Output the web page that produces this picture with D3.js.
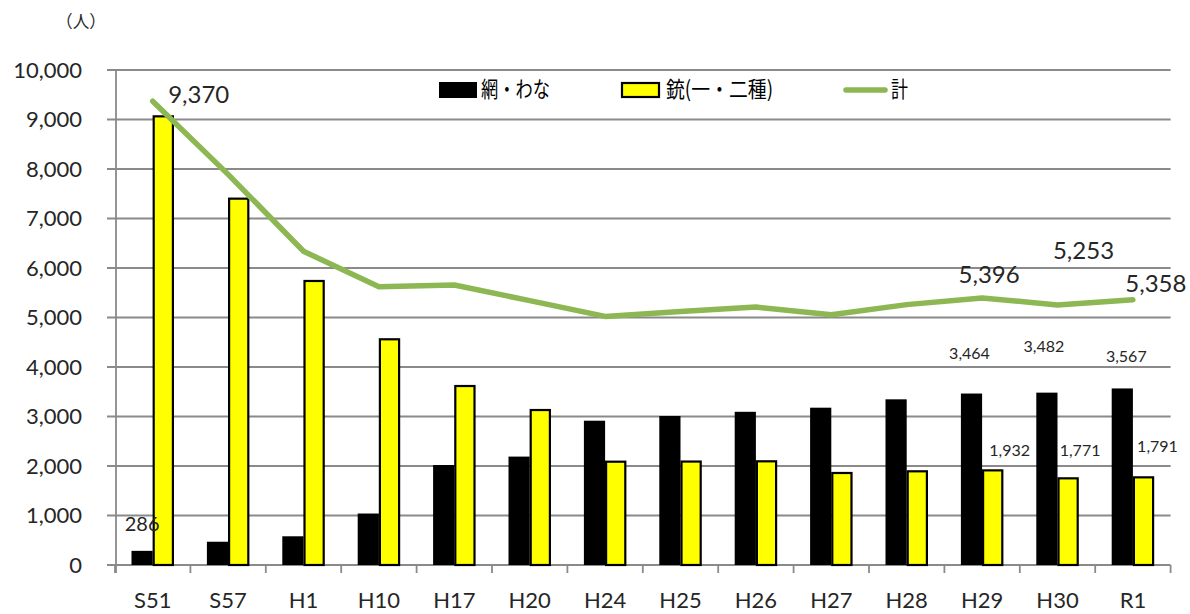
<!DOCTYPE html>
<html><head><meta charset="utf-8">
<script src="https://cdn.jsdelivr.net/npm/d3@7"></script>
<style>
html,body{margin:0;padding:0;background:#fff;}
svg{display:block;}
</style>
</head><body>
<svg id="chart" width="1190" height="614"></svg>
<script>
const categories = ["S51","S57","H1","H10","H17","H20","H24","H25","H26","H27","H28","H29","H30","R1"];
const netTrap = [286, 470, 580, 1040, 2020, 2190, 2915, 3010, 3095, 3178, 3347, 3464, 3482, 3567];
const gun = [9084, 7421, 5758, 4580, 3636, 3151, 2107, 2110, 2115, 1879, 1913, 1932, 1771, 1791];
const total = [9370, 7891, 6338, 5620, 5656, 5341, 5022, 5120, 5210, 5057, 5260, 5396, 5253, 5358];
const yTicks = [0,1000,2000,3000,4000,5000,6000,7000,8000,9000,10000];
const seriesNames = ["網・わな", "銃(一・二種)", "計"];
const unitLabel = "（人）";

// which points get value labels (index -> offset in px)
const totalLabelIdx = [0, 11, 12, 13];
const totalLabelOff = [[46,2],[7,-15],[26,-46],[23,-8]];
const netLabelIdx = [0, 11, 12, 13];
const netLabelOff = [[0,-20],[-2,-35],[-3,-41],[4,-26]];
const gunLabelIdx = [11, 12, 13];
const gunLabelOff = [[17,-13],[12,-21],[14,-24]];

const svg = d3.select("#chart");
const numFont = "Lato, 'Liberation Sans', sans-serif";
const jpFont = "'Noto Sans CJK JP', sans-serif";
const fmt = d3.format(",");

const x = d3.scaleBand().domain(categories).range([115, 1170.6]).paddingInner(0).paddingOuter(0);
const sub = d3.scaleBand().domain(["net","gun"]).range([16.5, x.bandwidth()-16.5]);
const y = d3.scaleLinear().domain([0,10000]).range([565,70]);

// gridlines
svg.append("g").selectAll("line").data(yTicks).join("line")
  .attr("x1",107).attr("x2",1170.6)
  .attr("y1",d=>y(d)).attr("y2",d=>y(d))
  .attr("stroke","#8a8a8a").attr("stroke-width",1.8);

// y axis line
svg.append("line").attr("x1",116).attr("x2",116).attr("y1",y(10000)).attr("y2",573)
  .attr("stroke","#8a8a8a").attr("stroke-width",1.8);

// x axis ticks
const xTickPos = categories.map(c=>x(c)).concat([x.range()[1]]);
svg.append("g").selectAll("line").data(xTickPos).join("line")
  .attr("x1",d=>d).attr("x2",d=>d).attr("y1",y(0)).attr("y2",573)
  .attr("stroke","#8a8a8a").attr("stroke-width",1.8);

// y labels
svg.append("g").selectAll("text").data(yTicks).join("text")
  .attr("x",82).attr("y",d=>y(d)).attr("dy","0.36em")
  .attr("text-anchor","end").attr("font-family",numFont).attr("font-size",22)
  .attr("fill","#262626").text(d=>fmt(d));

// x labels
svg.append("g").selectAll("text").data(categories).join("text")
  .attr("x",d=>x(d)+x.bandwidth()/2).attr("y",608)
  .attr("text-anchor","middle").attr("font-family",numFont).attr("font-size",22)
  .attr("fill","#262626").text(d=>d);

// unit label
svg.append("text").attr("x",56).attr("y",28).attr("font-family",jpFont).attr("font-size",17)
  .attr("textLength",50).attr("lengthAdjust","spacingAndGlyphs").attr("fill","#262626").text(unitLabel);

// bars
svg.append("g").selectAll("rect").data(categories).join("rect")
  .attr("x",d=>x(d)+sub("net")).attr("width",sub.bandwidth())
  .attr("y",(d,i)=>y(netTrap[i])).attr("height",(d,i)=>y(0)-y(netTrap[i]))
  .attr("fill","#000");
svg.append("g").selectAll("rect").data(categories).join("rect")
  .attr("x",d=>x(d)+sub("gun")+1).attr("width",sub.bandwidth()-2)
  .attr("y",(d,i)=>y(gun[i])+1).attr("height",(d,i)=>y(0)-y(gun[i])-1)
  .attr("fill","#ffff00").attr("stroke","#000").attr("stroke-width",2.2);

// total line
const line = d3.line().x((d,i)=>x(categories[i])+x.bandwidth()/2).y(d=>y(d));
svg.append("path").datum(total).attr("d",line)
  .attr("fill","none").attr("stroke","#8db752").attr("stroke-width",5.5)
  .attr("stroke-linejoin","round").attr("stroke-linecap","round");

// value labels
const cx = i => x(categories[i]) + x.bandwidth()/2;
const g = svg.append("g").attr("font-family",numFont).attr("fill","#262626").attr("text-anchor","middle");
totalLabelIdx.forEach((i,k)=>{
  g.append("text").attr("x",cx(i)+totalLabelOff[k][0]).attr("y",y(total[i])+totalLabelOff[k][1])
    .attr("font-size",24).text(fmt(total[i]));
});
netLabelIdx.forEach((i,k)=>{
  const bx = x(categories[i]) + sub("net") + sub.bandwidth()/2;
  g.append("text").attr("x",bx+netLabelOff[k][0]).attr("y",y(netTrap[i])+netLabelOff[k][1])
    .attr("font-size", i===0 ? 20 : 16).text(fmt(netTrap[i]));
});
gunLabelIdx.forEach((i,k)=>{
  const bx = x(categories[i]) + sub("gun") + sub.bandwidth()/2;
  g.append("text").attr("x",bx+gunLabelOff[k][0]).attr("y",y(gun[i])+gunLabelOff[k][1])
    .attr("font-size",16).text(fmt(gun[i]));
});

// legend
const lg = svg.append("g");
lg.append("rect").attr("x",439).attr("y",82).attr("width",38).attr("height",16).attr("fill","#000");
lg.append("text").attr("x",481).attr("y",97).attr("font-family",jpFont).attr("font-size",22)
  .attr("textLength",69).attr("lengthAdjust","spacingAndGlyphs").attr("fill","#000").text(seriesNames[0]);
lg.append("rect").attr("x",622).attr("y",83).attr("width",37).attr("height",14)
  .attr("fill","#ffff00").attr("stroke","#000").attr("stroke-width",2.2);
lg.append("text").attr("x",666).attr("y",97).attr("font-family",jpFont).attr("font-size",22)
  .attr("textLength",107).attr("lengthAdjust","spacingAndGlyphs").attr("fill","#000").text(seriesNames[1]);
lg.append("line").attr("x1",846).attr("x2",885).attr("y1",90).attr("y2",90)
  .attr("stroke","#8db752").attr("stroke-width",5.5).attr("stroke-linecap","round");
lg.append("text").attr("x",891).attr("y",97).attr("font-family",jpFont).attr("font-size",22)
  .attr("textLength",17).attr("lengthAdjust","spacingAndGlyphs").attr("fill","#000").text(seriesNames[2]);
</script>
</body></html>
